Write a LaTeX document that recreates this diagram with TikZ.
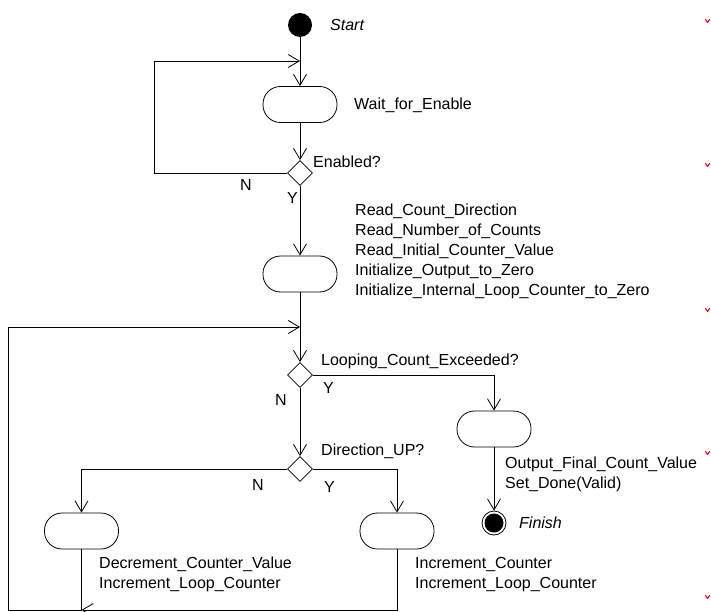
\documentclass[tikz,border=0pt]{standalone}
\usepackage{fontspec}
\setmainfont{Liberation Sans}
\usetikzlibrary{arrows.meta,shapes.geometric}

\tikzset{
  flow/.style={draw=black, line width=0.8pt},
  arr/.style={flow, -{Straight Barb[length=11pt,width=13pt,line width=0.8pt]}},
  activity/.style={draw=black, line width=0.8pt, rectangle, rounded corners=17.5pt,
                   minimum width=74pt, minimum height=36pt, inner sep=0pt, fill=white},
  choice/.style={draw=black, line width=0.8pt, diamond, minimum width=25pt,
                 minimum height=25pt, inner sep=0pt, fill=white},
  initial/.style={circle, fill=black, minimum size=24pt, inner sep=0pt},
  final/.style={circle, draw=black, line width=0.8pt, minimum size=24pt, inner sep=0pt},
  lbl/.style={anchor=base west, inner sep=0pt, font=\fontsize{16}{20}\selectfont, align=left},
  tick/.style={draw=red, line width=1.1pt, line cap=round, line join=round}
}

\begin{document}
\begin{tikzpicture}[x=1pt, y=-1pt]
  \useasboundingbox (0,0) rectangle (711,612);

  % states and decisions
  \node[initial]  (start) at (300,25) {};
  \node[activity] (wait)  at (300,104.5) {};
  \node[choice]   (en)    at (300,173) {};
  \node[activity] (init)  at (300,274) {};
  \node[choice]   (loop)  at (300,375) {};
  \node[activity] (out)   at (494,429) {};
  \node[final]    (fin)   at (494,523) {};
  \fill[black] (fin.center) circle (9.5pt);
  \node[choice]   (dir)   at (300,469) {};
  \node[activity] (dec)   at (81.5,531) {};
  \node[activity] (inc)   at (397,531) {};

  % routing points
  \coordinate (w1)   at (300,61);
  \coordinate (enL)  at (154,173);
  \coordinate (m1)   at (300,327);
  \coordinate (bl)   at (81.5,610);
  \coordinate (bot)  at (8,610);

  % connectors
  \draw[arr] (start) -- (wait);
  \draw[arr] (en.west) -- (enL) |- (w1);
  \draw[arr] (wait) -- (en);
  \draw[arr] (en) -- (init);
  \draw[arr] (init) -- (loop);
  \draw[arr] (loop.east) -| (out);
  \draw[arr] (out) -- (fin);
  \draw[arr] (loop) -- (dir);
  \draw[arr] (dir.west) -| (dec);
  \draw[arr] (dir.east) -| (inc);
  \draw[arr] (inc) |- (bl);
  \draw[arr] (dec) -- (bl) -- (bot) |- (m1);

  % labels (multi-line labels are placed by the baseline of their last line)
  \node[lbl] (tStart) at (330,31) {\itshape Start};
  \node[lbl] (tWait)  at (354,110) {Wait\_for\_Enable};
  \node[lbl] (tEn)    at (313,168) {Enabled?};
  \node[lbl] (tEnN)   at (240,191) {N};
  \node[lbl] (tEnY)   at (287,204) {Y};
  \node[lbl] (tInit)  at (355,295) {Read\_Count\_Direction\\Read\_Number\_of\_Counts\\Read\_Initial\_Counter\_Value\\Initialize\_Output\_to\_Zero\\Initialize\_Internal\_Loop\_Counter\_to\_Zero};
  \node[lbl] (tLoop)  at (321,365) {Looping\_Count\_Exceeded?};
  \node[lbl] (tLoopY) at (323,393) {Y};
  \node[lbl] (tLoopN) at (275,405) {N};
  \node[lbl] (tDir)   at (321,455) {Direction\_UP?};
  \node[lbl] (tDirN)  at (252,490) {N};
  \node[lbl] (tDirY)  at (324,492) {Y};
  \node[lbl] (tOut)   at (505,488) {Output\_Final\_Count\_Value\\Set\_Done(Valid)};
  \node[lbl] (tFin)   at (519,528) {\itshape Finish};
  \node[lbl] (tDec)   at (99,588) {Decrement\_Counter\_Value\\Increment\_Loop\_Counter};
  \node[lbl] (tInc)   at (415,588) {Increment\_Counter\\Increment\_Loop\_Counter};

  % small red margin ticks
  \foreach \yy in {21,165,310,453,597} {
    \draw[tick] (705.5,\yy-1.5) -- (707.5,\yy+1.5) -- (709.5,\yy-1.5);
  }
\end{tikzpicture}
\end{document}
